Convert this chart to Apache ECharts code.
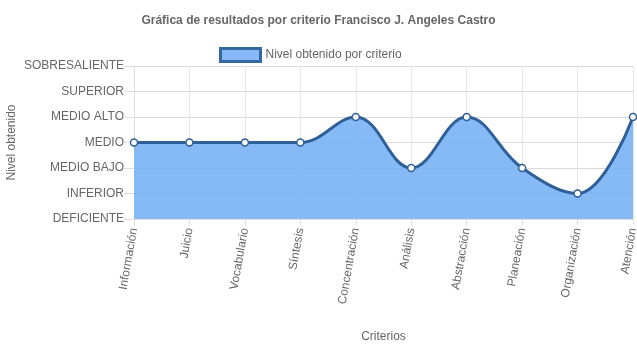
<!DOCTYPE html>
<html><head><meta charset="utf-8">
<script src="https://cdn.jsdelivr.net/npm/echarts@6/dist/echarts.min.js"></script>
<style>html,body{margin:0;padding:0;background:#fff}#c{width:637px;height:348px}</style>
</head><body><div id="c"></div>
<script>
var categories = ["Información","Juicio","Vocabulario","Síntesis","Concentración","Análisis","Abstracción","Planeación","Organización","Atención"];
var levelLabels = ["DEFICIENTE","INFERIOR","MEDIO BAJO","MEDIO","MEDIO ALTO","SUPERIOR","SOBRESALIENTE"];
var values = [3,3,3,3,4,2,4,2,1,4];
var seriesName = "Nivel obtenido por criterio";
var titleText = "Gráfica de resultados por criterio Francisco J. Angeles Castro";

var font = "'Liberation Sans', Arial, Helvetica, sans-serif";
var chart = echarts.init(document.getElementById('c'), null, {renderer:'canvas'});
chart.setOption({
  animation:false,
  textStyle:{fontFamily:font},
  title:{text:titleText,left:'center',top:10,textStyle:{fontSize:12,fontWeight:'bold',color:'#666',fontFamily:font}},
  legend:{top:42,left:214,itemWidth:40,itemHeight:13,itemGap:6,
    textStyle:{fontSize:12,color:'#666',fontFamily:font},
    data:[{name:seriesName,icon:'rect',itemStyle:{color:'#86b8f5',borderColor:'#3567a0',borderWidth:3}}]},
  grid:{left:134,right:4,top:66,bottom:129,outerBoundsMode:'none',containLabel:false},
  xAxis:{type:'category',data:categories,boundaryGap:false,
    name:'Criterios',nameLocation:'middle',nameGap:112,nameMoveOverlap:false,
    nameTextStyle:{fontSize:12,color:'#666',fontFamily:font},
    axisLine:{show:true,lineStyle:{color:'#ddd'}},
    axisTick:{show:true,length:6,lineStyle:{color:'#ddd'}},
    axisLabel:{rotate:80,fontSize:12,color:'#666',margin:9,fontFamily:font,interval:0},
    splitLine:{show:true,lineStyle:{color:'#e6e6e6'}}},
  yAxis:{type:'value',min:0,max:6,interval:1,
    name:'Nivel obtenido',nameLocation:'middle',nameGap:116,nameRotate:90,nameMoveOverlap:false,
    nameTextStyle:{fontSize:12,color:'#666',fontFamily:font},
    axisLine:{show:true,lineStyle:{color:'#ddd'}},
    axisTick:{show:true,length:10,lineStyle:{color:'#ddd'}},
    axisLabel:{fontSize:12,color:'#666',margin:10,fontFamily:font,formatter:function(v){return levelLabels[v]||'';}},
    splitLine:{show:true,lineStyle:{color:'#d9d9d9'}}},
  series:[{name:seriesName,type:'line',data:values,smooth:0.4,
    symbol:'circle',symbolSize:7,
    itemStyle:{color:'#fff',borderColor:'#2f5f98',borderWidth:1.5},
    lineStyle:{color:'#2f5f98',width:3},
    areaStyle:{color:'rgba(120,178,245,0.9)',opacity:1,origin:'start'}}]
});
</script></body></html>
